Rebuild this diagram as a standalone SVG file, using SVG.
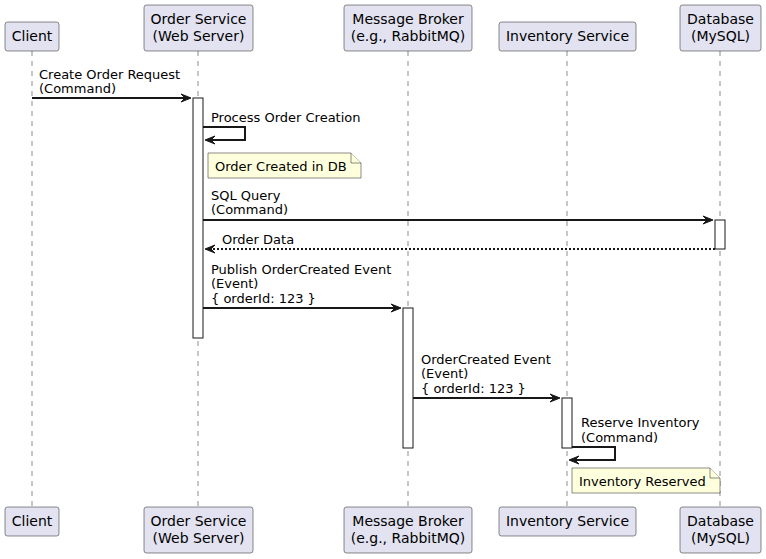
<svg xmlns="http://www.w3.org/2000/svg" width="766" height="559" viewBox="0 0 766 559">
<style>
text{font-family:"DejaVu Sans","Liberation Sans",sans-serif;fill:#000}
.p rect{fill:#E2E2F0;stroke:#181818;stroke-width:0.5}
.p text{font-size:14px;text-anchor:middle}
.life{stroke:#181818;stroke-width:0.5;stroke-dasharray:5,5;fill:none}
.act{fill:#fff;stroke:#181818;stroke-width:1}
.msg{stroke:#181818;stroke-width:2;fill:none}
.ret{stroke:#181818;stroke-width:2;fill:none;stroke-dasharray:2,2}
.ah{fill:#181818;stroke:#181818;stroke-width:1}
.m{font-size:13px}
.note path{fill:#FEFFDD;stroke:#181818;stroke-width:0.5}
</style>
<g id="lifelines">
<line class="life" x1="32" y1="51" x2="32" y2="507"/>
<line class="life" x1="198" y1="51" x2="198" y2="507"/>
<line class="life" x1="408" y1="51" x2="408" y2="507"/>
<line class="life" x1="567" y1="51" x2="567" y2="507"/>
<line class="life" x1="720" y1="51" x2="720" y2="507"/>
</g>
<g id="client" class="p">
<rect x="5" y="22" width="54" height="29" rx="2.5"/><text x="32" y="41">Client</text>
<rect x="5" y="507" width="54" height="29" rx="2.5"/><text x="32" y="526">Client</text>
</g>
<g id="order-service" class="p">
<rect x="144" y="5" width="109" height="46" rx="2.5"/><text x="198.5" y="24">Order Service</text><text x="198.5" y="41">(Web Server)</text>
<rect x="144" y="507" width="109" height="46" rx="2.5"/><text x="198.5" y="526">Order Service</text><text x="198.5" y="543">(Web Server)</text>
</g>
<g id="message-broker" class="p">
<rect x="344" y="5" width="128" height="46" rx="2.5"/><text x="408" y="24">Message Broker</text><text x="408" y="41">(e.g., RabbitMQ)</text>
<rect x="344" y="507" width="128" height="46" rx="2.5"/><text x="408" y="526">Message Broker</text><text x="408" y="543">(e.g., RabbitMQ)</text>
</g>
<g id="inventory-service" class="p">
<rect x="499" y="22" width="137" height="29" rx="2.5"/><text x="567.5" y="41">Inventory Service</text>
<rect x="499" y="507" width="137" height="29" rx="2.5"/><text x="567.5" y="526">Inventory Service</text>
</g>
<g id="database" class="p">
<rect x="680" y="5" width="81" height="46" rx="2.5"/><text x="720.5" y="24">Database</text><text x="720.5" y="41">(MySQL)</text>
<rect x="680" y="507" width="81" height="46" rx="2.5"/><text x="720.5" y="526">Database</text><text x="720.5" y="543">(MySQL)</text>
</g>
<g id="activations">
<rect class="act" x="193" y="98" width="10" height="240"/>
<rect class="act" x="715" y="220" width="10" height="29"/>
<rect class="act" x="403" y="308" width="10" height="140"/>
<rect class="act" x="562" y="398" width="10" height="50"/>
</g>
<g id="note-order-created" class="note">
<path d="M208,153 L351,153 L361,163 L361,178 L208,178 Z"/>
<path d="M351,153 L351,163 L361,163"/>
<text class="m" x="215" y="171">Order Created in DB</text>
</g>
<g id="note-inventory-reserved" class="note">
<path d="M572,468 L710,468 L720,478 L720,493 L572,493 Z"/>
<path d="M710,468 L710,478 L720,478"/>
<text class="m" x="579" y="486">Inventory Reserved</text>
</g>
<g id="connectors">
<line class="msg" x1="32" y1="98" x2="189" y2="98"/>
<polygon class="ah" points="181,94 191,98 181,102 185,98"/>
<text class="m" x="39" y="79">Create Order Request</text>
<text class="m" x="39" y="93">(Command)</text>

<polyline class="msg" points="203,127 245,127 245,140 207,140"/>
<polygon class="ah" points="215,136 205,140 215,144 211,140"/>
<text class="m" x="211" y="122">Process Order Creation</text>

<line class="msg" x1="203" y1="220" x2="711" y2="220"/>
<polygon class="ah" points="703,216 713,220 703,224 707,220"/>
<text class="m" x="211" y="200">SQL Query</text>
<text class="m" x="211" y="214">(Command)</text>

<line class="ret" x1="715" y1="249" x2="207" y2="249"/>
<polygon class="ah" points="215,245 205,249 215,253 211,249"/>
<text class="m" x="222" y="244">Order Data</text>

<line class="msg" x1="203" y1="308" x2="399" y2="308"/>
<polygon class="ah" points="391,304 401,308 391,312 395,308"/>
<text class="m" x="211" y="274">Publish OrderCreated Event</text>
<text class="m" x="211" y="288">(Event)</text>
<text class="m" x="211" y="303">{ orderId: 123 }</text>

<line class="msg" x1="413" y1="398" x2="558" y2="398"/>
<polygon class="ah" points="550,394 560,398 550,402 554,398"/>
<text class="m" x="421" y="364">OrderCreated Event</text>
<text class="m" x="421" y="378">(Event)</text>
<text class="m" x="421" y="393">{ orderId: 123 }</text>

<polyline class="msg" points="572,447 615,447 615,460 571,460"/>
<polygon class="ah" points="579,456 569,460 579,464 575,460"/>
<text class="m" x="581" y="427">Reserve Inventory</text>
<text class="m" x="581" y="442">(Command)</text>
</g>
</svg>
